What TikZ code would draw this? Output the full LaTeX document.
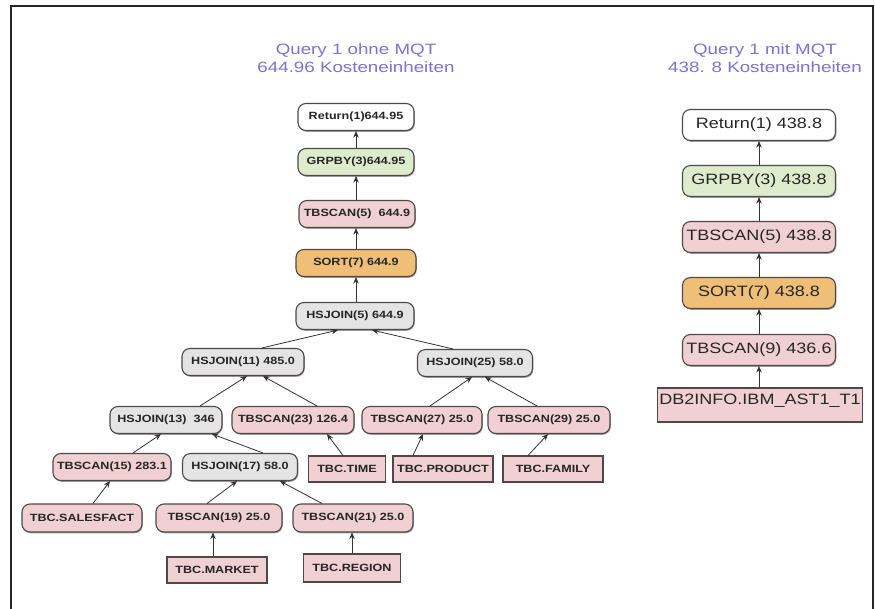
\documentclass[tikz,border=0pt]{standalone}
\usepackage{fontspec}
\setmainfont{Liberation Sans}
\newfontfamily\titlefont[FakeStretch=1.25]{Liberation Sans}
\newfontfamily\bigfont[FakeStretch=1.2]{Liberation Sans}
\newfontfamily\smallfont[FakeStretch=1.2]{Liberation Sans}
\usetikzlibrary{arrows.meta,shadows}
\definecolor{titleblue}{RGB}{120,118,205}
\definecolor{nodegreen}{RGB}{222,236,206}
\definecolor{nodepink}{RGB}{240,208,210}
\definecolor{nodeorange}{RGB}{239,191,120}
\definecolor{nodegray}{RGB}{228,228,228}
\definecolor{edgecol}{RGB}{50,50,50}
\definecolor{bordercol}{RGB}{80,72,72}
\begin{document}
\begin{tikzpicture}[x=1pt,y=-1pt,
  shad/.style={drop shadow={shadow xshift=0.8pt,shadow yshift=-1.3pt,fill=black!45,opacity=0.8}},
  op/.style={shad,draw=bordercol, line width=1.1pt, rounded corners=8pt, inner sep=0pt,
    minimum height=27pt, text=black!85, font=\smallfont\bfseries\fontsize{10.5}{12}\selectfont},
  tbl/.style={shad,draw=bordercol, line width=1.1pt, inner sep=0pt, minimum height=26pt,
    fill=nodepink, text=black!85, font=\smallfont\bfseries\fontsize{10.5}{12}\selectfont},
  big/.style={op, minimum height=31pt, minimum width=153pt, font=\bigfont\fontsize{15}{18}\selectfont},
  bigtbl/.style={tbl, font=\bigfont\fontsize{15}{18}\selectfont},
  title/.style={align=center, text=titleblue, font=\titlefont\fontsize{15}{18}\selectfont},
  arr/.style={draw=edgecol, line width=0.8pt, -{Stealth[length=6.5pt,width=5.5pt]}},
  frame/.style={draw=black!85, line width=1.4pt},
  ]
\useasboundingbox (0,0) rectangle (875,608);
\fill[white] (0,0) rectangle (875,608);
\draw[frame] (11,612) -- (11,6) -- (873,6) -- (873,612);

% titles
\node[title] (t1) at (356,58) {Query 1 ohne MQT\\644.96 Kosteneinheiten};
\node[title] (t2) at (765,58) {Query 1 mit MQT\\438. 8 Kosteneinheiten};

% left tree
\node[op, fill=white, minimum width=116pt] (ret1) at (356,117) {Return(1)644.95};
\node[op, fill=nodegreen, minimum width=116pt] (grp1) at (356,162) {GRPBY(3)644.95};
\node[op, fill=nodepink, minimum width=116pt] (tb5) at (357,214) {TBSCAN(5)\ \ 644.9};
\node[op, fill=nodeorange, minimum width=120pt] (sort1) at (356,263) {SORT(7) 644.9};
\node[op, fill=nodegray, minimum width=118pt] (hj5) at (355,316) {HSJOIN(5) 644.9};
\node[op, fill=nodegray, minimum width=122pt] (hj11) at (243,362) {HSJOIN(11) 485.0};
\node[op, fill=nodegray, minimum width=115pt] (hj25) at (475,363) {HSJOIN(25) 58.0};
\node[op, fill=nodegray, minimum width=112pt] (hj13) at (166,420) {HSJOIN(13)\ \ 346};
\node[op, fill=nodepink, minimum width=122pt] (tb23) at (293,420) {TBSCAN(23) 126.4};
\node[op, fill=nodepink, minimum width=120pt] (tb27) at (422,420) {TBSCAN(27) 25.0};
\node[op, fill=nodepink, minimum width=122pt] (tb29) at (549,420) {TBSCAN(29) 25.0};
\node[op, fill=nodepink, minimum width=118pt] (tb15) at (112,467) {TBSCAN(15) 283.1};
\node[op, fill=nodegray, minimum width=115pt] (hj17) at (240,467) {HSJOIN(17) 58.0};
\node[tbl, minimum width=77pt] (time) at (347,469) {TBC.TIME};
\node[tbl, minimum width=100pt] (product) at (443,469) {TBC.PRODUCT};
\node[tbl, minimum width=100pt] (family) at (553,469) {TBC.FAMILY};
\node[op, fill=nodepink, minimum width=120pt, minimum height=28pt] (sales) at (82,518) {TBC.SALESFACT};
\node[op, fill=nodepink, minimum width=126pt, minimum height=28pt] (tb19) at (219,518) {TBSCAN(19) 25.0};
\node[op, fill=nodepink, minimum width=120pt, minimum height=28pt] (tb21) at (353,518) {TBSCAN(21) 25.0};
\node[tbl, minimum width=100pt] (market) at (217,570) {TBC.MARKET};
\node[tbl, minimum width=97pt, minimum height=28pt] (region) at (352,568) {TBC.REGION};

% left edges
\draw[arr] (grp1.north) -- (ret1.south);
\draw[arr] ([xshift=-1pt]tb5.north) -- (grp1.south);
\draw[arr] (sort1.north) -- ([xshift=-1pt]tb5.south);
\draw[arr] ([xshift=1pt]hj5.north) -- (sort1.south);
\draw[arr] ([xshift=19pt]hj11.north) -- ([xshift=-17pt]hj5.south);
\draw[arr] ([xshift=-22pt]hj25.north) -- ([xshift=17pt]hj5.south);
\draw[arr] ([xshift=34pt]hj13.north) -- ([xshift=4pt]hj11.south);
\draw[arr] ([xshift=24pt]tb23.north) -- ([xshift=20pt]hj11.south);
\draw[arr] ([xshift=8pt]tb27.north) -- ([xshift=-3pt]hj25.south);
\draw[arr] ([xshift=-12pt]tb29.north) -- ([xshift=10pt]hj25.south);
\draw[arr] ([xshift=21pt]tb15.north) -- ([xshift=-5pt]hj13.south);
\draw[arr] ([xshift=23pt]hj17.north) -- ([xshift=46pt]hj13.south);
\draw[arr] ([xshift=11pt]sales.north) -- ([xshift=-2pt]tb15.south);
\draw[arr] ([xshift=-12pt]tb19.north) -- ([xshift=-3pt]hj17.south);
\draw[arr] ([xshift=-31pt]tb21.north) -- ([xshift=40pt]hj17.south);
\draw[arr] ([xshift=-4pt]market.north) -- ([xshift=-6pt]tb19.south);
\draw[arr] (region.north) -- ([xshift=-1pt]tb21.south);
\draw[arr] ([xshift=-4pt]time.north) -- ([xshift=34pt]tb23.south);
\draw[arr] ([xshift=-30pt]product.north) -- ([xshift=1pt]tb27.south);
\draw[arr] ([xshift=-25pt]family.north) -- ([xshift=-1pt]tb29.south);

% right column
\node[big, fill=white] (ret2) at (759,125) {Return(1) 438.8};
\node[big, fill=nodegreen] (grp2) at (759,181) {GRPBY(3) 438.8};
\node[big, fill=nodepink] (tb5r) at (759,237) {TBSCAN(5) 438.8};
\node[big, fill=nodeorange] (sort2) at (759,293) {SORT(7) 438.8};
\node[big, fill=nodepink] (tb9) at (759,350) {TBSCAN(9) 436.6};
\node[bigtbl, minimum width=205pt, text height=13pt, text depth=15pt, inner ysep=3pt] (db2) at (760,405) {DB2INFO.IBM\_AST1\_T1};

\draw[arr] (grp2.north) -- (ret2.south);
\draw[arr] (tb5r.north) -- (grp2.south);
\draw[arr] (sort2.north) -- (tb5r.south);
\draw[arr] (tb9.north) -- (sort2.south);
\draw[arr] ([xshift=-1pt]db2.north) -- (tb9.south);
\end{tikzpicture}
\end{document}
